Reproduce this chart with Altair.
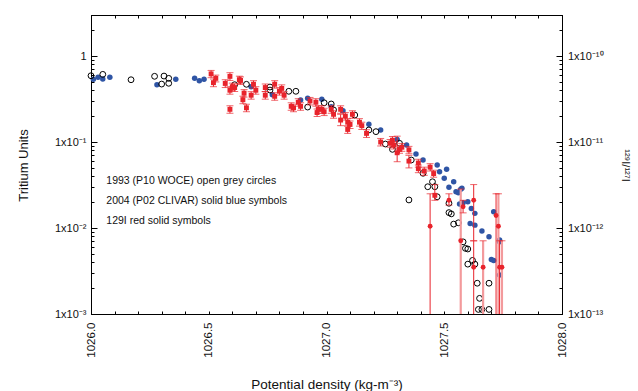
import altair as alt
import pandas as pd

FONT = "Liberation Sans"

# ---------------- data ----------------
# 1993 (P10 WOCE) - open circles, tritium units
woce_density = [1026.00, 1026.05, 1026.17, 1026.27, 1026.30, 1026.31, 1026.33, 1026.33,
                1026.61, 1026.66, 1026.76, 1026.76, 1026.84, 1026.87, 1026.92, 1026.99,
                1027.02, 1027.03, 1027.12, 1027.18, 1027.21, 1027.25, 1027.28, 1027.31,
                1027.36, 1027.41, 1027.43, 1027.45, 1027.46, 1027.47, 1027.35, 1027.52,
                1027.52, 1027.53, 1027.54, 1027.56, 1027.58, 1027.59, 1027.60, 1027.62,
                1027.60, 1027.63, 1027.64, 1027.69, 1027.65, 1027.645, 1027.66, 1027.69]
woce_tu = [0.590, 0.612, 0.530, 0.581, 0.472, 0.585, 0.550, 0.482,
           0.464, 0.469, 0.436, 0.402, 0.389, 0.389, 0.255, 0.286,
           0.277, 0.236, 0.206, 0.138, 0.132, 0.0948, 0.0822, 0.0966,
           0.0618, 0.0433, 0.0302, 0.0345, 0.0302, 0.0231, 0.0212, 0.0194,
           0.0151, 0.0146, 0.0111, 0.0115, 0.0069, 0.0058, 0.0057, 0.0042,
           0.0038, 0.0038, 0.00228, 0.00228, 0.00152, 0.00113, 0.00113, 0.00113]

# 2004 (P02 CLIVAR) - solid blue symbols, tritium units
clivar_density = [1026.01, 1026.03, 1026.05, 1026.08, 1026.28, 1026.36, 1026.44, 1026.46,
                  1026.48, 1026.68, 1026.77, 1026.89, 1026.92, 1026.98, 1027.02, 1027.07,
                  1027.18, 1027.23, 1027.30, 1027.34, 1027.38, 1027.41, 1027.47, 1027.48,
                  1027.51, 1027.50, 1027.52, 1027.54, 1027.55, 1027.56, 1027.57, 1027.575,
                  1027.565, 1027.58, 1027.60, 1027.615, 1027.63, 1027.61, 1027.63, 1027.66,
                  1027.69, 1027.71, 1027.735, 1027.70, 1027.71, 1027.735, 1027.735]
clivar_tu = [0.536, 0.565, 0.540, 0.565, 0.464, 0.536, 0.550, 0.516,
             0.536, 0.440, 0.355, 0.308, 0.322, 0.314, 0.257, 0.231,
             0.161, 0.138, 0.107, 0.0923, 0.0725, 0.0618, 0.0541, 0.0452,
             0.0482, 0.0378, 0.0297, 0.0345, 0.0264, 0.0257, 0.0282, 0.0290,
             0.0190, 0.0197, 0.0202, 0.0169, 0.0148, 0.0113, 0.0108, 0.00923,
             0.00792, 0.0155, 0.00725, 0.0043, 0.0042, 0.00284, 0.0069]

# 129I / 127I - red symbols with error bars (ratio values in units of 1e-12)
iodine_density = [1026.51, 1026.52, 1026.53, 1026.57, 1026.59, 1026.59, 1026.59, 1026.60, 1026.61, 1026.63,
                  1026.635, 1026.645, 1026.65, 1026.66, 1026.68, 1026.69, 1026.70, 1026.74, 1026.74, 1026.78,
                  1026.78, 1026.80, 1026.81, 1026.82, 1026.85, 1026.86, 1026.88, 1026.89, 1026.93, 1026.96,
                  1026.965, 1026.955, 1026.98, 1026.99, 1027.02, 1027.03, 1027.06, 1027.06, 1027.08, 1027.09,
                  1027.09, 1027.10, 1027.11, 1027.14, 1027.15, 1027.17, 1027.23, 1027.27, 1027.28, 1027.285,
                  1027.30, 1027.31, 1027.32, 1027.35, 1027.35, 1027.39, 1027.39, 1027.415, 1027.44, 1027.455,
                  1027.46,
                  1027.44, 1027.52, 1027.57, 1027.58, 1027.625, 1027.625, 1027.665, 1027.72, 1027.73, 1027.735, 1027.745]
iodine_ratio_e12 = [62, 49, 55, 48, 58, 40, 24, 44, 43, 53,
                    52, 31, 37, 25, 35, 47, 40, 43, 35, 47,
                    34, 39, 42, 35, 26, 25, 29, 26, 30, 22,
                    24, 29, 24, 22.5, 24, 21, 24, 18, 20, 17,
                    14, 16, 21, 17, 15.5, 12.6, 10, 9.7, 10.5, 9.2,
                    7.5, 8.2, 8.7, 8.1, 6.0, 4.9, 5.7, 4.6, 5.1, 4.3,
                    2.4,
                    1.05, 2.1, 0.71, 1.77, 2.1, 0.35, 0.35, 1.4, 1.05, 0.35, 0.35]
iodine_low_e12 = [56, 44, 50, 43, 52, 36, 21.6, 39.6, 38.7, 47.7,
                  46.8, 27.9, 33.3, 22.5, 31.5, 42.3, 36, 38.7, 31.5, 42.3,
                  30.6, 35.1, 37.8, 31.5, 23.4, 22.5, 26.1, 23.4, 27, 19.8,
                  21.6, 26.1, 21.6, 20.3, 21.6, 18.9, 21.6, 15.5, 18, 15.3,
                  12.6, 14.4, 18.9, 15.3, 14, 11.3, 9, 8.7, 9.4, 8.3,
                  5.9, 7.4, 7.8, 7.3, 5.0, 4.4, 5.1, 4.1, 4.6, 3.9,
                  2.1,
                  0.01, 1.85, 0.01, 1.5, 0.71, 0.01, 0.01, 0.01, 0.01, 0.01, 0.01]
iodine_high_e12 = [68, 54, 60, 53, 64, 44, 26.4, 48.4, 47.3, 58.3,
                   57.2, 34.1, 40.7, 27.5, 38.5, 51.7, 44, 47.3, 38.5, 51.7,
                   37.4, 42.9, 46.2, 38.5, 28.6, 27.5, 31.9, 28.6, 33, 24.2,
                   26.4, 31.9, 26.4, 24.7, 26.4, 23.1, 26.4, 21, 22, 18.7,
                   15.4, 17.6, 23.1, 18.7, 17, 13.9, 11, 10.7, 11.6, 10.1,
                   11.7, 9.0, 9.6, 8.9, 7.0, 5.4, 6.3, 5.1, 5.6, 4.7,
                   3.2,
                   2.5, 2.5, 2.84, 2.1, 3.2, 0.71, 0.71, 2.5, 2.5, 0.71, 0.71]
iodine_symbol = ["square"] * 61 + ["circle"] * 11
iodine_tone = ["red"] * 61 + ["red", "red", "pink", "red", "red", "red",
                              "pink", "red", "pink", "red", "pink"]

notes = ["1993 (P10 WOCE) open grey circles",
         "2004 (P02 CLIVAR)  solid blue symbols",
         "129I red solid symbols"]
note_density = [1026.065, 1026.065, 1026.065]
note_tu = [0.0352, 0.0206, 0.0121]

# axis tick values
x_ticks = [round(1026.0 + 0.1 * i, 1) for i in range(21)]
tu_ticks = [m * 10.0 ** e for e in (-3, -2, -1) for m in range(1, 10)] + [1.0, 2.0, 3.0]
ratio_ticks = [m * 10.0 ** e for e in (-13, -12, -11) for m in range(1, 10)] + [1e-10, 2e-10, 3e-10]

# ---------------- tables ----------------
df_woce = pd.DataFrame({"density": woce_density, "tu": woce_tu})
df_clivar = pd.DataFrame({"density": clivar_density, "tu": clivar_tu})
df_iod = pd.DataFrame({
    "density": iodine_density,
    "ratio": [v * 1e-12 for v in iodine_ratio_e12],
    "low": [v * 1e-12 for v in iodine_low_e12],
    "high": [v * 1e-12 for v in iodine_high_e12],
    "symbol": iodine_symbol,
    "tone": iodine_tone,
})
df_notes = pd.DataFrame({"density": note_density, "tu": note_tu, "note": notes})

# ---------------- scales & axes ----------------
xs = alt.Scale(domain=[1026.0, 1028.0], nice=False, zero=False)
ys_tu = alt.Scale(type="log", domain=[0.001, 3.0], nice=False)
ys_r = alt.Scale(type="log", domain=[1e-13, 3e-10], nice=False)

MAJOR_LOG = "abs(log(datum.value)/LN10 - round(log(datum.value)/LN10)) < 0.001"

bottom_axis = alt.Axis(
    orient="bottom", values=x_ticks, grid=False,
    labelExpr="abs(datum.value*2 - round(datum.value*2)) < 0.001 ? format(datum.value, '.1f') : ''",
    labelAngle=270, labelFontSize=11.5, labelPadding=11, labelFlush=False, labelOverlap=False,
    tickSize={"expr": "-3"},
    title="Potential density (kg-m⁻³)", titleFontSize=13.5, titleFontWeight="normal",
    titleX=235.5, titleY=70, titleBaseline="middle",
)
top_axis = alt.Axis(orient="top", values=x_ticks, grid=False, labels=False,
                    tickSize={"expr": "-3"}, title=None)

left_axis = alt.Axis(
    orient="left", values=tu_ticks, grid=False,
    labelExpr=("datum.value > 0.99 && datum.value < 1.01 ? '1' : "
               "abs(datum.value/0.1 - 1) < 0.001 ? '1x10⁻¹' : "
               "abs(datum.value/0.01 - 1) < 0.001 ? '1x10⁻²' : "
               "abs(datum.value/0.001 - 1) < 0.001 ? '1x10⁻³' : ''"),
    labelFontSize=11, labelPadding=11, labelFlush=False, labelOverlap=False,
    tickSize={"condition": {"test": MAJOR_LOG, "value": -6}, "value": -3},
    title="Tritium Units", titleFontSize=13, titleFontWeight="normal",
    titleAngle=270, titleX=-68, titleY=150, titleBaseline="middle",
)
right_axis = alt.Axis(
    orient="right", values=ratio_ticks, grid=False,
    labelExpr=("abs(datum.value/1e-10 - 1) < 0.001 ? '1x10⁻¹⁰' : "
               "abs(datum.value/1e-11 - 1) < 0.001 ? '1x10⁻¹¹' : "
               "abs(datum.value/1e-12 - 1) < 0.001 ? '1x10⁻¹²' : "
               "abs(datum.value/1e-13 - 1) < 0.001 ? '1x10⁻¹³' : ''"),
    labelFontSize=11, labelPadding=11.5, labelFlush=False, labelOverlap=False,
    tickSize={"condition": {"test": MAJOR_LOG, "value": -6}, "value": -3},
    title="¹²⁹I/¹²⁷I", titleFontSize=11, titleFontWeight="normal",
    titleAngle=90, titleX=62, titleY=150, titleBaseline="middle",
)

RED = "#e8232b"
BLUE = "#2f55a5"

tone_color = alt.Color("tone:N", scale=alt.Scale(domain=["red", "pink"], range=[RED, "#f39a9c"]), legend=None)

clivar = alt.Chart(df_clivar).mark_circle(color=BLUE, size=30, opacity=1).encode(
    x=alt.X("density:Q", scale=xs, axis=None),
    y=alt.Y("tu:Q", scale=ys_tu, axis=None),
)

woce = alt.Chart(df_woce).mark_point(shape="circle", filled=False, color="black",
                                     strokeWidth=1, size=34, opacity=1).encode(
    x=alt.X("density:Q", scale=xs, axis=bottom_axis),
    y=alt.Y("tu:Q", scale=ys_tu, axis=left_axis),
)

bars = alt.Chart(df_iod).mark_rule(clip=True).encode(
    x=alt.X("density:Q", scale=xs, axis=None),
    y=alt.Y("low:Q", scale=ys_r, axis=None),
    y2="high:Q",
    color=tone_color,
    strokeWidth=alt.StrokeWidth("tone:N", scale=alt.Scale(domain=["red", "pink"], range=[1, 2.2]), legend=None),
)

caps = alt.Chart(df_iod).transform_fold(["low", "high"], as_=["end", "val"]).mark_tick(
    orient="horizontal", size=7, thickness=1, clip=True).encode(
    x=alt.X("density:Q", scale=xs, axis=None),
    y=alt.Y("val:Q", scale=ys_r, axis=None),
    color=alt.value(RED),
)

iodine = alt.Chart(df_iod).mark_point(filled=True, color=RED, size=24, opacity=1).encode(
    x=alt.X("density:Q", scale=xs, axis=top_axis),
    y=alt.Y("ratio:Q", scale=ys_r, axis=right_axis),
    shape=alt.Shape("symbol:N", scale=alt.Scale(domain=["square", "circle"], range=["square", "circle"]), legend=None),
)

text = alt.Chart(df_notes).mark_text(align="left", baseline="middle", fontSize=10.5,
                                     font=FONT, color="#111111").encode(
    x=alt.X("density:Q", scale=xs, axis=None),
    y=alt.Y("tu:Q", scale=ys_tu, axis=None),
    text="note:N",
)

chart = alt.layer(clivar, woce, bars, caps, iodine, text).resolve_scale(
    y="independent"
).resolve_axis(
    x="independent", y="independent"
).properties(
    width=471, height=299,
    autosize=alt.AutoSizeParams(type="none"),
    padding={"left": 91, "top": 15, "right": 76, "bottom": 77},
    background="white",
).configure_view(
    stroke="black", strokeWidth=1
).configure_axis(
    domainColor="black", domainWidth=1, tickColor="black", tickWidth=1,
    labelColor="#111111", titleColor="#111111", labelFont=FONT, titleFont=FONT,
)

chart.save("out.html", embed_options={"renderer": "svg", "actions": False})
